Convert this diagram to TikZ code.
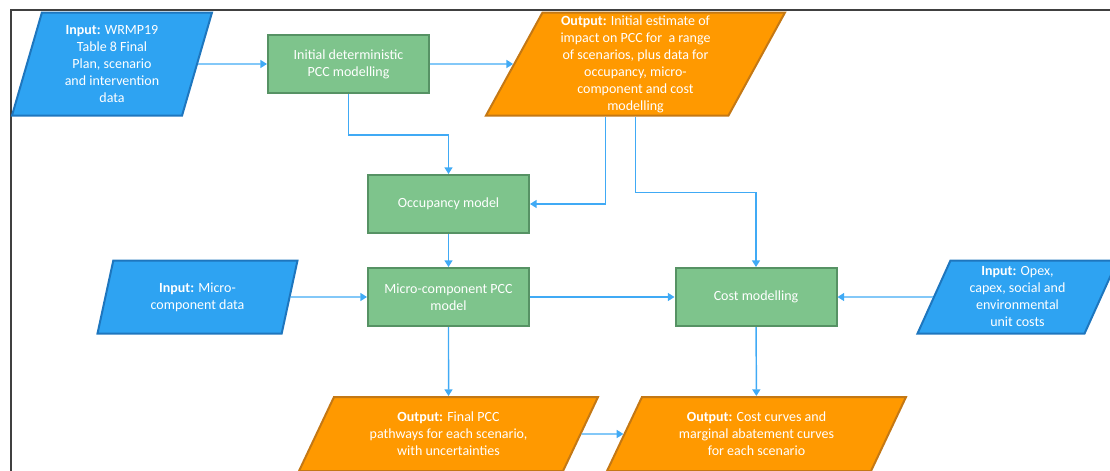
\documentclass[tikz,border=0pt]{standalone}
\usepackage{fontspec}
\setmainfont{Carlito}
\usetikzlibrary{shapes.geometric,arrows.meta}

\definecolor{inblue}{RGB}{46,163,242}
\definecolor{inblueline}{RGB}{30,118,190}
\definecolor{stepgreen}{RGB}{126,196,140}
\definecolor{stepgreenline}{RGB}{86,146,100}
\definecolor{outorange}{RGB}{255,153,0}
\definecolor{outorangeline}{RGB}{196,120,20}
\definecolor{linkblue}{RGB}{64,170,245}

\begin{document}
\begin{tikzpicture}[x=0.75pt, y=-0.75pt,
  every node/.style={font=\fontsize{10.5}{12.75}\selectfont, text=white, align=center},
  model/.style={rectangle, draw=stepgreenline, fill=stepgreen, line width=1.5pt,
    minimum width=120.75pt, minimum height=43.5pt, inner sep=0pt},
  input/.style={trapezium, trapezium stretches body, trapezium left angle=#1,
    trapezium right angle={180-#1}, inner sep=0pt,
    draw=inblueline, fill=inblue, line width=1.5pt, minimum width=150pt},
  output/.style={trapezium, trapezium stretches body, trapezium left angle=#1,
    trapezium right angle={180-#1}, inner sep=0pt,
    draw=outorangeline, fill=outorange, line width=1.5pt, minimum width=224.25pt},
  link/.style={draw=linkblue, line width=1.1pt, -{Triangle[length=5pt,width=6pt]}}]
  \useasboundingbox (0,0) rectangle (1110,471);
  \draw[line width=1.2pt, black!75] (11,471) -- (11,10) -- (1110,10);

  % top row
  \node[input=68.8, minimum height=77.25pt] (wrmp) at (112,64)
    {\textbf{Input:} WRMP19\\Table 8 Final\\Plan, scenario\\and intervention\\data};
  \node[model] (init) at (348.5,64) {Initial deterministic\\PCC modelling};
  \node[output=59.8, minimum height=77.25pt] (first) at (635.5,64)
    {\textbf{Output:} Initial estimate of\\impact on PCC for\ \ a range\\of scenarios, plus data for\\occupancy, micro-\\component and cost\\modelling};

  % middle
  \node[model] (occ) at (448.5,204) {Occupancy model};
  \node[input=61.3, minimum height=54.75pt] (micin) at (197.5,297)
    {\textbf{Input:} Micro-\\component data};
  \node[model] (micro) at (448.5,297) {Micro-component PCC\\model};
  \node[model] (cost) at (756,297) {Cost modelling};
  \node[input=61.3, minimum height=54.75pt] (costin) at (1017.5,297)
    {\textbf{Input:} Opex,\\capex, social and\\environmental\\unit costs};

  % bottom row
  \node[output=51.4, minimum height=55.5pt] (final) at (448.5,434)
    {\textbf{Output:} Final PCC\\pathways for each scenario,\\with uncertainties};
  \node[output=51.4, minimum height=55.5pt] (curves) at (756.5,434)
    {\textbf{Output:} Cost curves and\\marginal abatement curves\\for each scenario};

  \draw[link] (wrmp) -- (init);
  \draw[link] (init) -- (first);
  \draw[link] (init.south) -- ++(0,41) -| (occ.north);
  \draw[link] ([xshift=-22.5pt]first.south) |- (occ.east);
  \draw[link] (first.south) -- ++(0,76) -| (cost.north);
  \draw[link] (occ) -- (micro);
  \draw[link] (micin) -- (micro);
  \draw[link] (micro) -- (cost);
  \draw[link] (costin) -- (cost);
  \draw[link] (micro) -- (final);
  \draw[link] (cost) -- (curves);
  \draw[link] (final) -- (curves);
\end{tikzpicture}
\end{document}
